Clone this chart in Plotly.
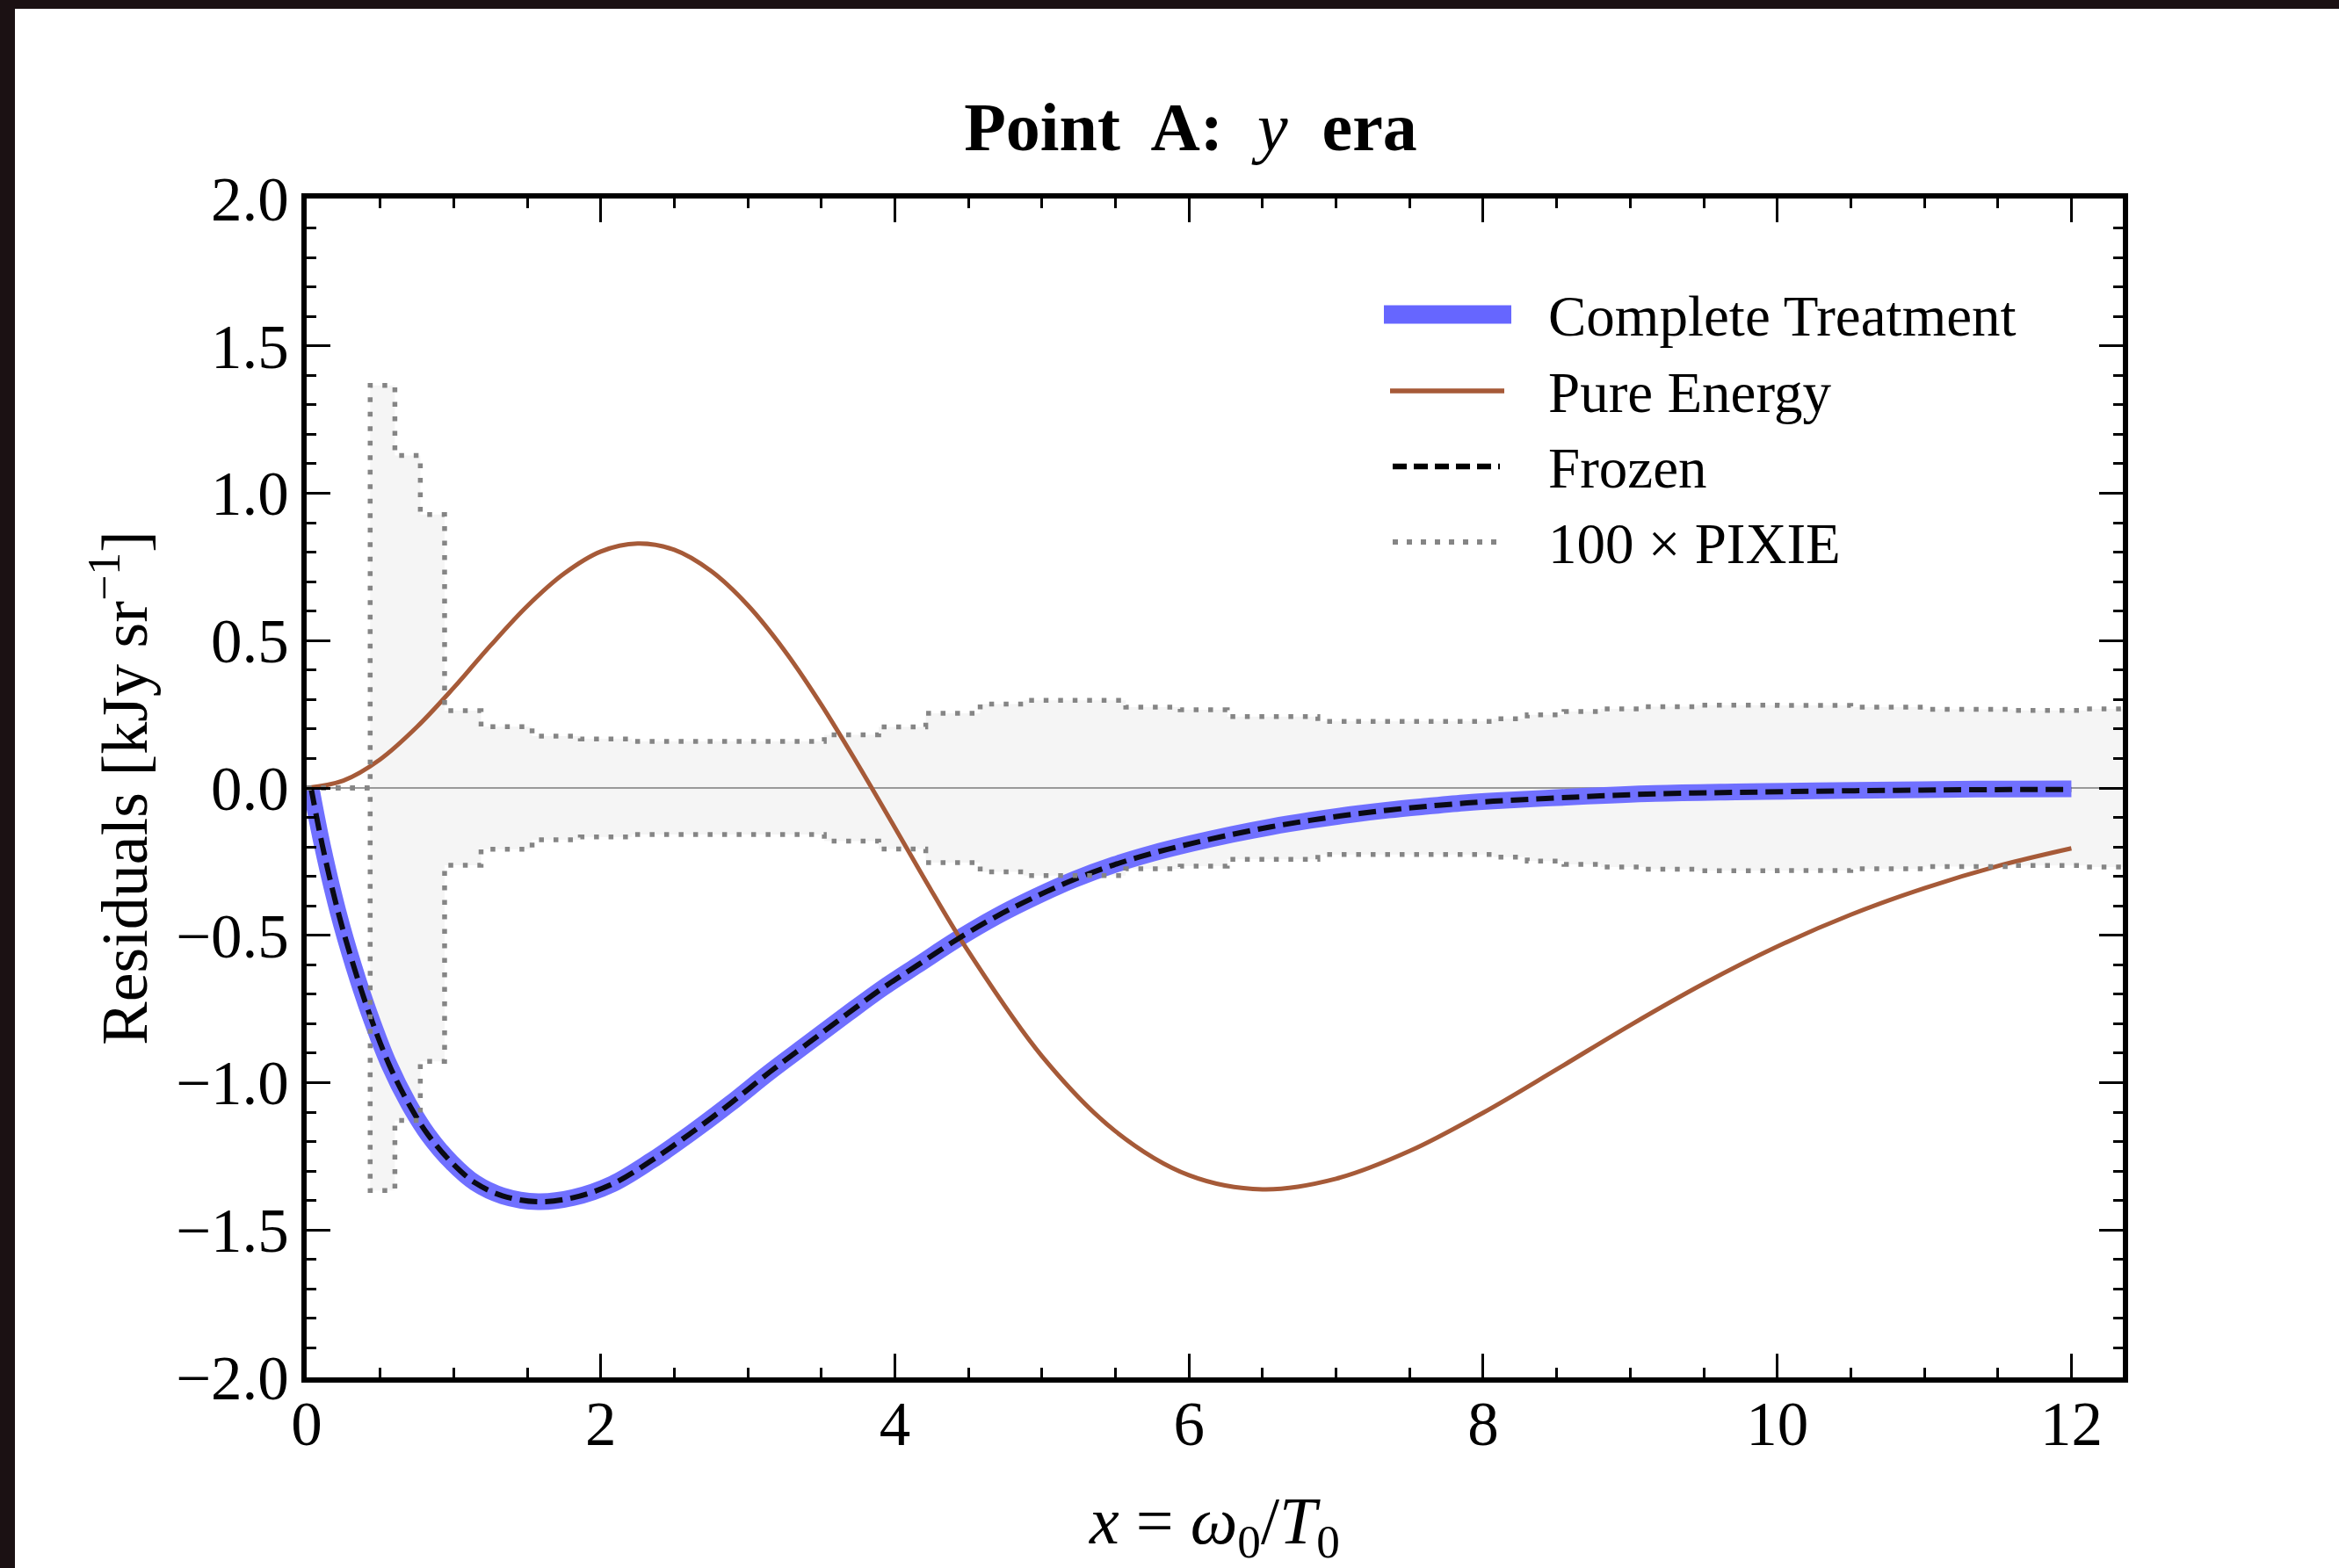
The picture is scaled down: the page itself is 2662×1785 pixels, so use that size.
import plotly.graph_objects as go

# ---------------- data ----------------
complete_x = [0.03, 0.106, 0.213, 0.32, 0.426, 0.56, 0.693, 0.826, 0.986, 1.146, 1.332, 1.573,
              1.813, 2.079, 2.346, 2.613, 2.88, 3.146, 3.413, 3.68, 3.92, 4.155, 4.422, 4.689,
              4.956, 5.222, 5.489, 5.756, 6.02, 6.289, 6.556, 6.822, 7.089, 7.356, 7.622, 7.889,
              8.07, 8.619, 9.168, 9.716, 10.265, 10.81, 11.36, 12.0]
complete_y = [0.0, -0.193, -0.419, -0.605, -0.765, -0.938, -1.071, -1.177, -1.271, -1.34, -1.384, -1.404,
              -1.39, -1.344, -1.264, -1.171, -1.071, -0.965, -0.865, -0.765, -0.678, -0.601, -0.514, -0.436,
              -0.369, -0.310, -0.261, -0.221, -0.188, -0.158, -0.132, -0.11, -0.091, -0.075, -0.062, -0.050,
              -0.044, -0.030, -0.019, -0.0135, -0.0096, -0.007, -0.004, -0.003]

frozen_x = complete_x
frozen_y = [0.0, -0.193, -0.419, -0.605, -0.765, -0.938, -1.071, -1.177, -1.271, -1.34, -1.384, -1.404,
            -1.39, -1.344, -1.264, -1.171, -1.071, -0.965, -0.865, -0.765, -0.678, -0.601, -0.514, -0.436,
            -0.369, -0.310, -0.261, -0.221, -0.188, -0.158, -0.132, -0.11, -0.091, -0.075, -0.062, -0.051,
            -0.045, -0.031, -0.020, -0.015, -0.011, -0.008, -0.006, -0.005]

energy_x = [0.0, 0.25, 0.5, 0.75, 1.0, 1.25, 1.5, 1.75, 2.0, 2.25, 2.5, 2.75, 3.0, 3.25, 3.5, 3.75,
            4.0, 4.25, 4.5, 5.0, 5.5, 6.0, 6.5, 7.0, 7.5, 8.0, 8.5, 9.0, 9.5, 10.0, 10.5, 11.0, 11.5, 12.0]
energy_y = [0.0, 0.025, 0.097, 0.207, 0.340, 0.483, 0.617, 0.727, 0.802, 0.829, 0.808, 0.736, 0.620,
            0.466, 0.282, 0.078, -0.135, -0.350, -0.555, -0.910, -1.165, -1.314, -1.362, -1.326, -1.232,
            -1.102, -0.955, -0.805, -0.664, -0.538, -0.430, -0.340, -0.265, -0.205]

pixie_x = [0.0, 0.432, 0.60, 0.773, 0.938, 1.186, 1.533, 1.861, 2.213, 3.52, 3.89, 4.21, 4.58, 4.875,
           5.57, 5.94, 6.26, 6.876, 8.07, 8.3, 8.55, 8.8, 9.1, 9.45, 10.0, 10.5, 11.0, 11.6, 12.1, 12.35]
pixie_err = [0.0, 1.366, 1.128, 0.928, 0.262, 0.208, 0.176, 0.166, 0.158, 0.180, 0.207, 0.253, 0.285, 0.297,
             0.274, 0.265, 0.242, 0.226, 0.235, 0.248, 0.259, 0.268, 0.276, 0.281, 0.280, 0.274, 0.267, 0.263,
             0.268, 0.270]
pixie_low = [-e for e in pixie_err]

x_range = [0, 12.35]
y_range = [-2.0, 2.0]
x_ticks = [0, 2, 4, 6, 8, 10, 12]
y_ticks = [-2.0, -1.5, -1.0, -0.5, 0.0, 0.5, 1.0, 1.5, 2.0]

legend_names = ["Complete Treatment", "Pure Energy", "Frozen", "100 \u00d7 PIXIE"]

# ---------------- layout geometry ----------------
W, H = 2662, 1785
L, R, T, B = 349, 246, 226, 217
PW, PH = W - L - R, H - T - B


def px_x(px):
    return (px - L) / PW


def px_y(py):
    return (H - B - py) / PH


FONT = "Liberation Serif"
BLUE = "#7070ff"
BROWN = "#a65a38"
GRAY = "#858585"

fig = go.Figure()

# band fill
fig.add_trace(go.Scatter(x=pixie_x, y=pixie_low, mode="lines", line=dict(width=0, shape="hv"),
                         hoverinfo="skip", showlegend=False))
fig.add_trace(go.Scatter(x=pixie_x, y=pixie_err, mode="lines", line=dict(width=0, shape="hv"),
                         fill="tonexty", fillcolor="#f5f5f5", hoverinfo="skip", showlegend=False))
# zero line
fig.add_trace(go.Scatter(x=x_range, y=[0, 0], mode="lines", line=dict(color="#9a9a9a", width=1.8),
                         hoverinfo="skip", showlegend=False))
# curves
fig.add_trace(go.Scatter(x=complete_x, y=complete_y, mode="lines", name=legend_names[0],
                         line=dict(color=BLUE, width=19, shape="spline"), showlegend=False))
fig.add_trace(go.Scatter(x=energy_x, y=energy_y, mode="lines", name=legend_names[1],
                         line=dict(color=BROWN, width=5, shape="spline"), showlegend=False))
fig.add_trace(go.Scatter(x=frozen_x, y=frozen_y, mode="lines", name=legend_names[2],
                         line=dict(color="#0a0a14", width=6, dash="20px,9px", shape="spline"),
                         showlegend=False))
# PIXIE dotted outlines on top
fig.add_trace(go.Scatter(x=pixie_x, y=pixie_err, mode="lines", name=legend_names[3],
                         line=dict(color=GRAY, width=5.5, dash="5.5px,11px", shape="hv"), showlegend=False))
fig.add_trace(go.Scatter(x=pixie_x, y=pixie_low, mode="lines", name=legend_names[3],
                         line=dict(color=GRAY, width=5.5, dash="5.5px,11px", shape="hv"), showlegend=False))

shapes = []
# dark screenshot border (top and left)
shapes.append(dict(type="rect", xref="paper", yref="paper", x0=px_x(-10), x1=px_x(W + 10),
                   y0=px_y(10), y1=px_y(-10), fillcolor="#1b1113", line=dict(width=0), layer="above"))
shapes.append(dict(type="rect", xref="paper", yref="paper", x0=px_x(-10), x1=px_x(17),
                   y0=px_y(H + 10), y1=px_y(-10), fillcolor="#1b1113", line=dict(width=0), layer="above"))

# manual legend
rows = [358, 445, 531, 617]
leg_styles = [
    dict(color="#6666ff", width=21, x0=1575, x1=1720, dash="solid"),
    dict(color=BROWN, width=5.5, x0=1582, x1=1712, dash="solid"),
    dict(color="#000000", width=6.5, x0=1585, x1=1707, dash="16px,8px"),
    dict(color=GRAY, width=6, x0=1585, x1=1707, dash="6px,10px"),
]
annotations = []
for ry, st, name in zip(rows, leg_styles, legend_names):
    shapes.append(dict(type="line", xref="paper", yref="paper", x0=px_x(st["x0"]), x1=px_x(st["x1"]),
                       y0=px_y(ry), y1=px_y(ry), line=dict(color=st["color"], width=st["width"], dash=st["dash"]),
                       layer="above"))
    annotations.append(dict(xref="paper", yref="paper", x=px_x(1760), y=px_y(ry + 2), text=name,
                            showarrow=False, xanchor="left", yanchor="middle",
                            font=dict(family=FONT, size=65, color="black")))

axis_common = dict(showline=True, linecolor="black", linewidth=6, mirror="allticks", ticks="inside",
                   tickcolor="black", tickwidth=3, ticklen=27, showgrid=False, zeroline=False,
                   tickfont=dict(family=FONT, size=71, color="black"), automargin=False)

fig.update_layout(
    width=W, height=H,
    margin=dict(l=L, r=R, t=T, b=B, pad=0),
    paper_bgcolor="white", plot_bgcolor="white",
    showlegend=False,
    title=dict(text="<b>Point\u00a0 A:\u00a0 </b><i>y</i><b>\u00a0 era</b>", xref="paper", x=px_x(1355),
               xanchor="center", yref="container", y=1 - 144 / H, yanchor="middle",
               font=dict(family=FONT, size=78, color="black")),
    xaxis=dict(range=x_range, tickvals=x_ticks, ticktext=[str(v) for v in x_ticks], ticklabelstandoff=-14,
               minor=dict(ticks="inside", dtick=0.5, ticklen=11, tickwidth=2.5, tickcolor="black", showgrid=False),
               title=dict(text="<i>x</i> = <i>\u03c9</i><sub>0</sub>/<i>T</i><sub>0</sub>", standoff=48,
                          font=dict(family=FONT, size=76, color="black")),
               **axis_common),
    yaxis=dict(range=y_range, tickvals=y_ticks, tickformat=".1f",
               minor=dict(ticks="inside", dtick=0.1, ticklen=11, tickwidth=2.5, tickcolor="black", showgrid=False),
               title=dict(text="Residuals [kJy sr<sup>\u22121</sup>]", standoff=10,
                          font=dict(family=FONT, size=74, color="black")),
               **axis_common),
    shapes=shapes,
    annotations=annotations,
)

fig.write_html("out.html")
